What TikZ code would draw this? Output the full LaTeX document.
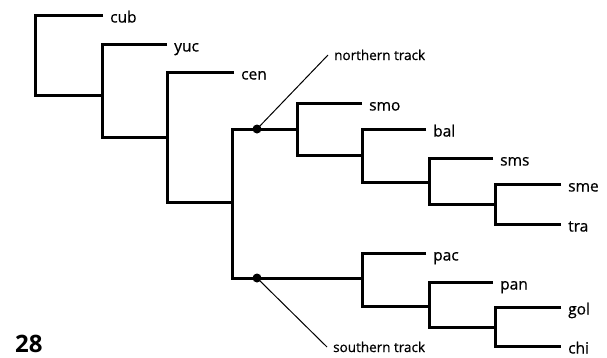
\documentclass[tikz,border=0pt]{standalone}
\usepackage{fontspec}
\setmainfont{Open Sans}
\newfontfamily\cladofont[FakeBold=0.7]{Open Sans}
\begin{document}
\begin{tikzpicture}[x=1pt, y=-1pt]
    \tikzstyle{clado_branch} = [draw = black, line width = 3pt]
    \tikzstyle{clado_leaf}   = [anchor = west, inner xsep = 7pt, inner ysep = 0pt, text height = 15pt, text depth = 0pt, font = \cladofont\fontsize{15.5}{16}\selectfont]
    \tikzstyle{clado_track}  = [anchor = west, inner xsep = 6pt, inner ysep = 0pt, text height = 10pt, text depth = 0pt, font = \cladofont\fontsize{13.5}{14}\selectfont]
    \tikzstyle{clado_dot}    = [shape = circle, fill = black, inner sep = 0pt, minimum size = 9pt]
    \tikzstyle{clado_pointer} = [draw = black, line width = 1pt]

    \useasboundingbox (0,0) rectangle (607,357);

    % internal nodes (bar x, height where the parent branch comes in)
    \coordinate (r)   at (35,  55);
    \coordinate (n1)  at (102, 95);
    \coordinate (n2)  at (167, 137);
    \coordinate (n3)  at (232, 202);
    \coordinate (n4)  at (297, 129);
    \coordinate (n5)  at (362, 155);
    \coordinate (n6)  at (429, 182);
    \coordinate (n7)  at (495, 204);
    \coordinate (n8)  at (362, 278);
    \coordinate (n9)  at (429, 306);
    \coordinate (n10) at (495, 327);

    % terminal taxa
    \node[clado_leaf] at (103, 15)  (cub) {cub};
    \node[clado_leaf] at (167, 44)  (yuc) {yuc};
    \node[clado_leaf] at (234, 72)  (cen) {cen};
    \node[clado_leaf] at (362, 103) (smo) {smo};
    \node[clado_leaf] at (426, 129) (bal) {bal};
    \node[clado_leaf] at (493, 158) (sms) {sms};
    \node[clado_leaf] at (561, 184) (sme) {sme};
    \node[clado_leaf] at (561, 224) (tra) {tra};
    \node[clado_leaf] at (426, 253) (pac) {pac};
    \node[clado_leaf] at (493, 282) (pan) {pan};
    \node[clado_leaf] at (561, 307) (gol) {gol};
    \node[clado_leaf] at (561, 346) (chi) {chi};

    \draw[clado_branch]
      (cub.west) -| (r)   |- (n1)
      (yuc.west) -| (n1)  |- (n2)
      (cen.west) -| (n2)  |- (n3)
      (n4)       -| (n3)  |- (n8)
      (smo.west) -| (n4)  |- (n5)
      (bal.west) -| (n5)  |- (n6)
      (sms.west) -| (n6)  |- (n7)
      (sme.west) -| (n7)  |- (tra.west)
      (pac.west) -| (n8)  |- (n9)
      (pan.west) -| (n9)  |- (n10)
      (gol.west) -| (n10) |- (chi.west)
    ;

    % the two tracks
    \node[clado_dot] at (257, 129) (dn) {};
    \node[clado_dot] at (257, 278) (ds) {};

    \node[clado_track] at (328, 55)  (north) {northern track};
    \node[clado_track] at (327, 347) (south) {southern track};

    \draw[clado_pointer]
      (dn.center) -- (north.west)
      (ds.center) -- (south.west)
    ;

    \node[anchor = base west, inner sep = 0pt, font = \fontsize{24}{24}\selectfont\bfseries] at (15, 352) (fig) {28};
  \end{tikzpicture}
\end{document}
